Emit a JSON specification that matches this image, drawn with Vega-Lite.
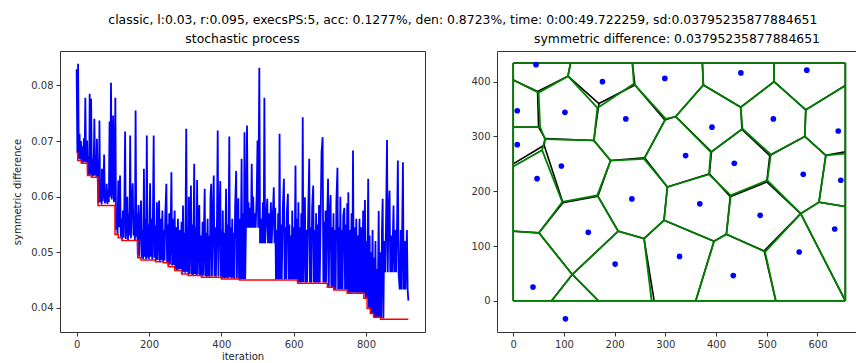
{
  "$schema": "https://vega.github.io/schema/vega-lite/v6.json",
  "background": "white",
  "padding": {"left": 12, "top": 13, "right": 0, "bottom": 0},
  "title": {"text": "classic, l:0.03, r:0.095, execsPS:5, acc: 0.1277%, den: 0.8723%, time: 0:00:49.722259, sd:0.03795235877884651", "fontSize": 12.4, "fontWeight": "normal", "font": "DejaVu Sans", "color": "#000", "anchor": "middle", "dx": 28, "offset": 6},
  "spacing": 44,
  "config": {
    "font": "DejaVu Sans",
    "view": {"stroke": "#333", "strokeWidth": 1},
    "axis": {"grid": false, "domain": false, "tickColor": "#333", "tickSize": 4, "labelFont": "DejaVu Sans", "labelFontSize": 10, "labelColor": "#333", "labelPadding": 3, "titleFont": "DejaVu Sans", "titleFontSize": 10, "titleFontWeight": "normal", "titleColor": "#222"},
    "title": {"fontSize": 12.4, "fontWeight": "normal", "font": "DejaVu Sans", "color": "#000", "offset": 6}
  },
  "hconcat": [
    {
      "width": 365,
      "height": 281,
      "title": {"text": "stochastic process"},
      "layer": [
        {
          "data": {"values": [
{"i":0,"v":0.0829},{"i":2,"v":0.0679},{"i":4,"v":0.0839},{"i":6,"v":0.0668},{"i":8,"v":0.0713},{"i":10,"v":0.0667},{"i":12,"v":0.0700},{"i":14,"v":0.0662},{"i":16,"v":0.0690},{"i":18,"v":0.0661},{"i":20,"v":0.0705},{"i":22,"v":0.0663},{"i":24,"v":0.0778},{"i":26,"v":0.0662},{"i":29,"v":0.0701},{"i":31,"v":0.0640},{"i":33,"v":0.0672},{"i":35,"v":0.0637},{"i":36,"v":0.0785},{"i":38,"v":0.0640},{"i":40,"v":0.0776},{"i":42,"v":0.0636},{"i":44,"v":0.0668},{"i":46,"v":0.0637},{"i":48,"v":0.0690},{"i":49,"v":0.0740},{"i":51,"v":0.0638},{"i":53,"v":0.0675},{"i":55,"v":0.0636},{"i":56,"v":0.0704},{"i":58,"v":0.0640},{"i":60,"v":0.0588},{"i":62,"v":0.0620},{"i":63,"v":0.0737},{"i":65,"v":0.0590},{"i":67,"v":0.0615},{"i":69,"v":0.0586},{"i":70,"v":0.0650},{"i":72,"v":0.0592},{"i":74,"v":0.0610},{"i":76,"v":0.0676},{"i":78,"v":0.0588},{"i":80,"v":0.0605},{"i":82,"v":0.0590},{"i":83,"v":0.0623},{"i":85,"v":0.0587},{"i":87,"v":0.0612},{"i":89,"v":0.0590},{"i":91,"v":0.0735},{"i":93,"v":0.0600},{"i":95,"v":0.0805},{"i":97,"v":0.0595},{"i":99,"v":0.0620},{"i":101,"v":0.0746},{"i":103,"v":0.0590},{"i":105,"v":0.0603},{"i":107,"v":0.0778},{"i":109,"v":0.0540},{"i":111,"v":0.0565},{"i":113,"v":0.0532},{"i":115,"v":0.0629},{"i":117,"v":0.0545},{"i":120,"v":0.0638},{"i":122,"v":0.0528},{"i":124,"v":0.0560},{"i":126,"v":0.0523},{"i":128,"v":0.0575},{"i":130,"v":0.0526},{"i":132,"v":0.0590},{"i":134,"v":0.0717},{"i":136,"v":0.0524},{"i":138,"v":0.0556},{"i":140,"v":0.0600},{"i":142,"v":0.0522},{"i":144,"v":0.0570},{"i":146,"v":0.0530},{"i":148,"v":0.0710},{"i":150,"v":0.0525},{"i":152,"v":0.0580},{"i":155,"v":0.0624},{"i":157,"v":0.0530},{"i":159,"v":0.0565},{"i":161,"v":0.0522},{"i":163,"v":0.0755},{"i":165,"v":0.0528},{"i":167,"v":0.0570},{"i":169,"v":0.0495},{"i":171,"v":0.0585},{"i":173,"v":0.0492},{"i":175,"v":0.0545},{"i":178,"v":0.0593},{"i":180,"v":0.0490},{"i":182,"v":0.0540},{"i":184,"v":0.0488},{"i":186,"v":0.0650},{"i":188,"v":0.0492},{"i":190,"v":0.0560},{"i":192,"v":0.0487},{"i":194,"v":0.0710},{"i":196,"v":0.0490},{"i":198,"v":0.0550},{"i":200,"v":0.0488},{"i":203,"v":0.0624},{"i":205,"v":0.0492},{"i":207,"v":0.0560},{"i":209,"v":0.0487},{"i":211,"v":0.0575},{"i":213,"v":0.0710},{"i":215,"v":0.0490},{"i":217,"v":0.0548},{"i":219,"v":0.0485},{"i":222,"v":0.0590},{"i":224,"v":0.0486},{"i":226,"v":0.0545},{"i":228,"v":0.0593},{"i":230,"v":0.0484},{"i":232,"v":0.0560},{"i":234,"v":0.0486},{"i":237,"v":0.0575},{"i":239,"v":0.0483},{"i":241,"v":0.0540},{"i":243,"v":0.0485},{"i":245,"v":0.0565},{"i":248,"v":0.0623},{"i":250,"v":0.0482},{"i":252,"v":0.0550},{"i":254,"v":0.0476},{"i":256,"v":0.0570},{"i":258,"v":0.0478},{"i":260,"v":0.0545},{"i":262,"v":0.0644},{"i":264,"v":0.0476},{"i":266,"v":0.0560},{"i":268,"v":0.0477},{"i":271,"v":0.0575},{"i":273,"v":0.0470},{"i":275,"v":0.0545},{"i":277,"v":0.0468},{"i":280,"v":0.0560},{"i":282,"v":0.0469},{"i":285,"v":0.0540},{"i":287,"v":0.0470},{"i":290,"v":0.0555},{"i":292,"v":0.0463},{"i":294,"v":0.0584},{"i":296,"v":0.0465},{"i":298,"v":0.0535},{"i":300,"v":0.0463},{"i":303,"v":0.0722},{"i":305,"v":0.0465},{"i":307,"v":0.0545},{"i":309,"v":0.0459},{"i":310,"v":0.0600},{"i":312,"v":0.0461},{"i":314,"v":0.0540},{"i":316,"v":0.0620},{"i":318,"v":0.0460},{"i":320,"v":0.0550},{"i":322,"v":0.0459},{"i":325,"v":0.0659},{"i":327,"v":0.0461},{"i":329,"v":0.0545},{"i":331,"v":0.0459},{"i":333,"v":0.0630},{"i":335,"v":0.0460},{"i":337,"v":0.0540},{"i":339,"v":0.0585},{"i":341,"v":0.0459},{"i":343,"v":0.0530},{"i":346,"v":0.0456},{"i":348,"v":0.0555},{"i":350,"v":0.0458},{"i":352,"v":0.0540},{"i":354,"v":0.0614},{"i":356,"v":0.0457},{"i":358,"v":0.0535},{"i":360,"v":0.0456},{"i":362,"v":0.0560},{"i":364,"v":0.0457},{"i":366,"v":0.0530},{"i":368,"v":0.0456},{"i":370,"v":0.0600},{"i":372,"v":0.0623},{"i":374,"v":0.0457},{"i":376,"v":0.0540},{"i":379,"v":0.0638},{"i":381,"v":0.0457},{"i":383,"v":0.0545},{"i":385,"v":0.0456},{"i":388,"v":0.0560},{"i":390,"v":0.0719},{"i":392,"v":0.0457},{"i":394,"v":0.0545},{"i":397,"v":0.0628},{"i":399,"v":0.0456},{"i":401,"v":0.0540},{"i":403,"v":0.0453},{"i":404,"v":0.0575},{"i":406,"v":0.0454},{"i":408,"v":0.0535},{"i":410,"v":0.0453},{"i":413,"v":0.0614},{"i":415,"v":0.0454},{"i":417,"v":0.0550},{"i":419,"v":0.0453},{"i":422,"v":0.0708},{"i":424,"v":0.0455},{"i":426,"v":0.0545},{"i":428,"v":0.0453},{"i":430,"v":0.0560},{"i":432,"v":0.0454},{"i":434,"v":0.0535},{"i":436,"v":0.0452},{"i":438,"v":0.0580},{"i":441,"v":0.0646},{"i":443,"v":0.0453},{"i":445,"v":0.0540},{"i":447,"v":0.0597},{"i":449,"v":0.0452},{"i":451,"v":0.0560},{"i":453,"v":0.0451},{"i":456,"v":0.0668},{"i":458,"v":0.0452},{"i":460,"v":0.0570},{"i":462,"v":0.0451},{"i":464,"v":0.0716},{"i":466,"v":0.0452},{"i":468,"v":0.0544},{"i":471,"v":0.0728},{"i":473,"v":0.0544},{"i":475,"v":0.0590},{"i":477,"v":0.0544},{"i":480,"v":0.0580},{"i":482,"v":0.0544},{"i":484,"v":0.0659},{"i":486,"v":0.0544},{"i":488,"v":0.0600},{"i":490,"v":0.0544},{"i":493,"v":0.0570},{"i":495,"v":0.0544},{"i":498,"v":0.0610},{"i":500,"v":0.0701},{"i":502,"v":0.0544},{"i":505,"v":0.0832},{"i":507,"v":0.0516},{"i":510,"v":0.0560},{"i":512,"v":0.0516},{"i":515,"v":0.0590},{"i":517,"v":0.0516},{"i":519,"v":0.0778},{"i":521,"v":0.0516},{"i":524,"v":0.0560},{"i":527,"v":0.0596},{"i":529,"v":0.0516},{"i":532,"v":0.0570},{"i":534,"v":0.0516},{"i":537,"v":0.0590},{"i":539,"v":0.0516},{"i":542,"v":0.0560},{"i":545,"v":0.0617},{"i":547,"v":0.0516},{"i":549,"v":0.0580},{"i":551,"v":0.0451},{"i":553,"v":0.0540},{"i":555,"v":0.0452},{"i":557,"v":0.0570},{"i":559,"v":0.0451},{"i":561,"v":0.0713},{"i":563,"v":0.0452},{"i":565,"v":0.0550},{"i":567,"v":0.0451},{"i":570,"v":0.0580},{"i":573,"v":0.0632},{"i":575,"v":0.0451},{"i":577,"v":0.0545},{"i":579,"v":0.0452},{"i":581,"v":0.0570},{"i":584,"v":0.0605},{"i":586,"v":0.0451},{"i":588,"v":0.0550},{"i":590,"v":0.0451},{"i":592,"v":0.0530},{"i":594,"v":0.0451},{"i":596,"v":0.0575},{"i":598,"v":0.0452},{"i":600,"v":0.0545},{"i":602,"v":0.0451},{"i":605,"v":0.0656},{"i":607,"v":0.0452},{"i":609,"v":0.0560},{"i":611,"v":0.0446},{"i":613,"v":0.0590},{"i":615,"v":0.0446},{"i":617,"v":0.0545},{"i":619,"v":0.0445},{"i":621,"v":0.0570},{"i":623,"v":0.0446},{"i":625,"v":0.0743},{"i":627,"v":0.0446},{"i":629,"v":0.0550},{"i":631,"v":0.0599},{"i":633,"v":0.0445},{"i":635,"v":0.0540},{"i":637,"v":0.0446},{"i":640,"v":0.0565},{"i":643,"v":0.0668},{"i":645,"v":0.0446},{"i":647,"v":0.0545},{"i":649,"v":0.0445},{"i":651,"v":0.0580},{"i":654,"v":0.0620},{"i":656,"v":0.0446},{"i":658,"v":0.0540},{"i":660,"v":0.0445},{"i":662,"v":0.0570},{"i":664,"v":0.0446},{"i":666,"v":0.0550},{"i":668,"v":0.0445},{"i":670,"v":0.0585},{"i":672,"v":0.0446},{"i":674,"v":0.0540},{"i":677,"v":0.0680},{"i":680,"v":0.0707},{"i":682,"v":0.0446},{"i":684,"v":0.0555},{"i":686,"v":0.0445},{"i":688,"v":0.0575},{"i":690,"v":0.0446},{"i":692,"v":0.0545},{"i":695,"v":0.0632},{"i":697,"v":0.0438},{"i":699,"v":0.0560},{"i":702,"v":0.0603},{"i":704,"v":0.0438},{"i":706,"v":0.0545},{"i":708,"v":0.0437},{"i":710,"v":0.0570},{"i":712,"v":0.0433},{"i":714,"v":0.0540},{"i":716,"v":0.0433},{"i":718,"v":0.0590},{"i":721,"v":0.0652},{"i":723,"v":0.0434},{"i":725,"v":0.0545},{"i":727,"v":0.0433},{"i":729,"v":0.0600},{"i":731,"v":0.0434},{"i":733,"v":0.0540},{"i":735,"v":0.0433},{"i":737,"v":0.0565},{"i":740,"v":0.0580},{"i":742,"v":0.0433},{"i":744,"v":0.0550},{"i":746,"v":0.0433},{"i":748,"v":0.0588},{"i":750,"v":0.0427},{"i":751,"v":0.0608},{"i":753,"v":0.0427},{"i":755,"v":0.0540},{"i":757,"v":0.0427},{"i":760,"v":0.0570},{"i":762,"v":0.0427},{"i":764,"v":0.0683},{"i":766,"v":0.0428},{"i":768,"v":0.0545},{"i":770,"v":0.0427},{"i":773,"v":0.0560},{"i":775,"v":0.0427},{"i":777,"v":0.0530},{"i":779,"v":0.0427},{"i":782,"v":0.0560},{"i":784,"v":0.0427},{"i":787,"v":0.0545},{"i":789,"v":0.0427},{"i":792,"v":0.0575},{"i":794,"v":0.0426},{"i":797,"v":0.0594},{"i":799,"v":0.0418},{"i":801,"v":0.0520},{"i":803,"v":0.0417},{"i":806,"v":0.0632},{"i":808,"v":0.0400},{"i":810,"v":0.0530},{"i":812,"v":0.0399},{"i":814,"v":0.0500},{"i":816,"v":0.0390},{"i":818,"v":0.0540},{"i":820,"v":0.0390},{"i":822,"v":0.0490},{"i":824,"v":0.0383},{"i":826,"v":0.0520},{"i":828,"v":0.0383},{"i":830,"v":0.0470},{"i":832,"v":0.0383},{"i":835,"v":0.0574},{"i":837,"v":0.0383},{"i":840,"v":0.0500},{"i":842,"v":0.0381},{"i":844,"v":0.0540},{"i":846,"v":0.0596},{"i":848,"v":0.0381},{"i":850,"v":0.0520},{"i":853,"v":0.0464},{"i":855,"v":0.0540},{"i":858,"v":0.0702},{"i":860,"v":0.0464},{"i":862,"v":0.0560},{"i":865,"v":0.0611},{"i":867,"v":0.0464},{"i":870,"v":0.0530},{"i":872,"v":0.0464},{"i":876,"v":0.0584},{"i":878,"v":0.0464},{"i":881,"v":0.0540},{"i":883,"v":0.0464},{"i":886,"v":0.0560},{"i":888,"v":0.0665},{"i":890,"v":0.0464},{"i":893,"v":0.0433},{"i":896,"v":0.0540},{"i":898,"v":0.0433},{"i":902,"v":0.0662},{"i":904,"v":0.0433},{"i":907,"v":0.0520},{"i":909,"v":0.0433},{"i":913,"v":0.0540},{"i":915,"v":0.0433},{"i":917,"v":0.0413}
          ]},
          "mark": {"type": "line", "color": "#0000ff", "strokeWidth": 1.8},
          "encoding": {
            "x": {"field": "i", "type": "quantitative", "scale": {"domain": [-46, 963], "nice": false, "zero": false}, "axis": {"title": "iteration", "values": [0, 200, 400, 600, 800], "titlePadding": 2}},
            "y": {"field": "v", "type": "quantitative", "scale": {"domain": [0.03565, 0.0862], "nice": false, "zero": false}, "axis": {"title": "symmetric difference", "values": [0.04, 0.05, 0.06, 0.07, 0.08], "format": ".2f", "titlePadding": 8}}
          }
        },
        {
          "data": {"values": [
{"i":0,"v":0.0679},{"i":3,"v":0.0665},{"i":13,"v":0.0660},{"i":30,"v":0.0638},{"i":41,"v":0.0635},{"i":59,"v":0.0584},{"i":106,"v":0.0532},{"i":115,"v":0.0526},{"i":125,"v":0.0521},{"i":169,"v":0.0490},{"i":178,"v":0.0486},{"i":218,"v":0.0483},{"i":240,"v":0.0481},{"i":253,"v":0.0474},{"i":271,"v":0.0467},{"i":290,"v":0.0461},{"i":308,"v":0.0458},{"i":345,"v":0.0455},{"i":400,"v":0.0452},{"i":450,"v":0.0450},{"i":611,"v":0.0444},{"i":693,"v":0.0437},{"i":711,"v":0.0432},{"i":748,"v":0.0426},{"i":794,"v":0.0417},{"i":803,"v":0.0399},{"i":812,"v":0.0390},{"i":821,"v":0.0383},{"i":840,"v":0.03795},{"i":917,"v":0.03795}
          ]},
          "mark": {"type": "line", "color": "#ff0000", "strokeWidth": 1.5, "interpolate": "step-after"},
          "encoding": {
            "x": {"field": "i", "type": "quantitative", "axis": {"title": "iteration"}},
            "y": {"field": "v", "type": "quantitative", "axis": {"title": "symmetric difference"}}
          }
        }
      ]
    },
    {
      "width": 360,
      "height": 281,
      "title": {"text": "symmetric difference: 0.03795235877884651"},
      "layer": [
        {
          "data": {"values": [
{"x1":0,"y1":434,"x2":655,"y2":434},{"x1":655,"y1":434,"x2":655,"y2":0},{"x1":655,"y1":0,"x2":0,"y2":0},{"x1":0,"y1":0,"x2":0,"y2":434},
{"x1":108,"y1":410,"x2":113,"y2":434},{"x1":108,"y1":410,"x2":48,"y2":382},{"x1":48,"y1":382,"x2":0,"y2":403},{"x1":108,"y1":410,"x2":169,"y2":360},{"x1":169,"y1":360,"x2":240,"y2":394},{"x1":169,"y1":360,"x2":159,"y2":292.7},{"x1":240,"y1":394,"x2":235,"y2":434},
{"x1":48,"y1":382,"x2":50,"y2":317},{"x1":50,"y1":317,"x2":0,"y2":317},{"x1":50,"y1":317,"x2":63,"y2":296},{"x1":63,"y1":296,"x2":61,"y2":284},{"x1":61,"y1":284,"x2":0,"y2":250},{"x1":63,"y1":296,"x2":159,"y2":292.7},{"x1":61,"y1":284,"x2":98,"y2":179},
{"x1":159,"y1":292.7,"x2":192,"y2":256},{"x1":192,"y1":256,"x2":259,"y2":261},{"x1":192,"y1":256,"x2":167,"y2":191},{"x1":167,"y1":191,"x2":98,"y2":179},{"x1":98,"y1":179,"x2":50.7,"y2":124},{"x1":50.7,"y1":124,"x2":0,"y2":127},{"x1":50.7,"y1":124,"x2":116.5,"y2":48},{"x1":116.5,"y1":48,"x2":75.7,"y2":0},{"x1":116.5,"y1":48,"x2":168,"y2":0},{"x1":116.5,"y1":48,"x2":207,"y2":127},{"x1":167,"y1":191,"x2":207,"y2":127},{"x1":207,"y1":127,"x2":258,"y2":113.6},{"x1":258,"y1":113.6,"x2":278,"y2":0},{"x1":258,"y1":113.6,"x2":297.4,"y2":147},
{"x1":297.4,"y1":147,"x2":304,"y2":207.7},{"x1":297.4,"y1":147,"x2":396,"y2":108.7},{"x1":396,"y1":108.7,"x2":360,"y2":0},{"x1":396,"y1":108.7,"x2":420.4,"y2":121.5},{"x1":420.4,"y1":121.5,"x2":428,"y2":190},{"x1":420.4,"y1":121.5,"x2":495,"y2":91},{"x1":495,"y1":91,"x2":517.8,"y2":0},{"x1":495,"y1":91,"x2":567,"y2":159},{"x1":567,"y1":159,"x2":655,"y2":0},{"x1":567,"y1":159,"x2":603,"y2":180},{"x1":603,"y1":180,"x2":655,"y2":172},{"x1":603,"y1":180,"x2":616.5,"y2":265.4},{"x1":567,"y1":159,"x2":500,"y2":217},{"x1":500,"y1":217,"x2":428,"y2":190},{"x1":500,"y1":217,"x2":506,"y2":265},
{"x1":428,"y1":190,"x2":387,"y2":232},{"x1":387,"y1":232,"x2":304,"y2":207.7},{"x1":387,"y1":232,"x2":391,"y2":272},{"x1":304,"y1":207.7,"x2":259,"y2":261},{"x1":259,"y1":261,"x2":299,"y2":330},{"x1":299,"y1":330,"x2":240,"y2":394},{"x1":299,"y1":330,"x2":320.5,"y2":336.4},{"x1":320.5,"y1":336.4,"x2":375,"y2":394},{"x1":320.5,"y1":336.4,"x2":391,"y2":272},{"x1":375,"y1":394,"x2":373,"y2":434},{"x1":375,"y1":394,"x2":448.8,"y2":353.4},{"x1":448.8,"y1":353.4,"x2":514.5,"y2":400},{"x1":514.5,"y1":400,"x2":514.5,"y2":434},{"x1":514.5,"y1":400,"x2":577,"y2":348.6},{"x1":577,"y1":348.6,"x2":655,"y2":393},{"x1":577,"y1":348.6,"x2":575,"y2":300},{"x1":575,"y1":300,"x2":616.5,"y2":265.4},{"x1":616.5,"y1":265.4,"x2":655,"y2":272},{"x1":575,"y1":300,"x2":506,"y2":265},{"x1":506,"y1":265,"x2":451,"y2":313},{"x1":451,"y1":313,"x2":448.8,"y2":353.4},{"x1":451,"y1":313,"x2":391,"y2":272}
          ]},
          "mark": {"type": "rule", "color": "#000000", "strokeWidth": 1.6},
          "encoding": {
            "x": {"field": "x1", "type": "quantitative", "scale": {"domain": [-32, 678], "nice": false, "zero": false}, "axis": {"title": null, "values": [0, 100, 200, 300, 400, 500, 600]}},
            "y": {"field": "y1", "type": "quantitative", "scale": {"domain": [-57, 456], "nice": false, "zero": false}, "axis": {"title": null, "values": [0, 100, 200, 300, 400]}},
            "x2": {"field": "x2"},
            "y2": {"field": "y2"}
          }
        },
        {
          "data": {"values": [
{"x1":0,"y1":434,"x2":655,"y2":434},{"x1":655,"y1":434,"x2":655,"y2":0},{"x1":655,"y1":0,"x2":0,"y2":0},{"x1":0,"y1":0,"x2":0,"y2":434},
{"x1":108,"y1":410,"x2":113,"y2":434},{"x1":108,"y1":410,"x2":50,"y2":380},{"x1":50,"y1":380,"x2":0,"y2":403},{"x1":108,"y1":410,"x2":166,"y2":352},{"x1":166,"y1":352,"x2":238,"y2":396},{"x1":166,"y1":352,"x2":159,"y2":292.7},{"x1":238,"y1":396,"x2":235,"y2":434},
{"x1":50,"y1":380,"x2":53,"y2":317},{"x1":53,"y1":317,"x2":0,"y2":317},{"x1":53,"y1":317,"x2":62.6,"y2":295},{"x1":62.6,"y1":295,"x2":57,"y2":275},{"x1":57,"y1":275,"x2":0,"y2":245},{"x1":62.6,"y1":295,"x2":159,"y2":292.7},{"x1":57,"y1":275,"x2":96.7,"y2":180.4},
{"x1":159,"y1":292.7,"x2":192,"y2":256},{"x1":192,"y1":256,"x2":258,"y2":259},{"x1":192,"y1":256,"x2":165.8,"y2":192.5},{"x1":165.8,"y1":192.5,"x2":96.7,"y2":180.4},{"x1":96.7,"y1":180.4,"x2":50.7,"y2":124},{"x1":50.7,"y1":124,"x2":0,"y2":127},{"x1":50.7,"y1":124,"x2":116.5,"y2":48},{"x1":116.5,"y1":48,"x2":75.7,"y2":0},{"x1":116.5,"y1":48,"x2":168,"y2":0},{"x1":116.5,"y1":48,"x2":207,"y2":127},{"x1":165.8,"y1":192.5,"x2":207,"y2":127},{"x1":207,"y1":127,"x2":258,"y2":113.6},{"x1":258,"y1":113.6,"x2":273,"y2":0},{"x1":258,"y1":113.6,"x2":297.4,"y2":147},
{"x1":297.4,"y1":147,"x2":304,"y2":207.7},{"x1":297.4,"y1":147,"x2":396,"y2":108.7},{"x1":396,"y1":108.7,"x2":360,"y2":0},{"x1":396,"y1":108.7,"x2":420.4,"y2":121.5},{"x1":420.4,"y1":121.5,"x2":429,"y2":192.5},{"x1":420.4,"y1":121.5,"x2":496.7,"y2":89.3},{"x1":496.7,"y1":89.3,"x2":517.8,"y2":0},{"x1":496.7,"y1":89.3,"x2":567,"y2":159},{"x1":567,"y1":159,"x2":655,"y2":0},{"x1":567,"y1":159,"x2":603,"y2":180},{"x1":603,"y1":180,"x2":655,"y2":172},{"x1":603,"y1":180,"x2":616.5,"y2":265.4},{"x1":567,"y1":159,"x2":501,"y2":220},{"x1":501,"y1":220,"x2":429,"y2":192.5},{"x1":501,"y1":220,"x2":508,"y2":267},
{"x1":429,"y1":192.5,"x2":386,"y2":230.8},{"x1":386,"y1":230.8,"x2":304,"y2":207.7},{"x1":386,"y1":230.8,"x2":389.6,"y2":271.4},{"x1":304,"y1":207.7,"x2":258,"y2":259},{"x1":258,"y1":259,"x2":300.8,"y2":332.2},{"x1":300.8,"y1":332.2,"x2":238,"y2":396},{"x1":300.8,"y1":332.2,"x2":320.5,"y2":336.4},{"x1":320.5,"y1":336.4,"x2":375,"y2":394},{"x1":320.5,"y1":336.4,"x2":389.6,"y2":271.4},{"x1":375,"y1":394,"x2":373,"y2":434},{"x1":375,"y1":394,"x2":448.8,"y2":353.4},{"x1":448.8,"y1":353.4,"x2":514.5,"y2":400},{"x1":514.5,"y1":400,"x2":514.5,"y2":434},{"x1":514.5,"y1":400,"x2":577,"y2":348.6},{"x1":577,"y1":348.6,"x2":655,"y2":393},{"x1":577,"y1":348.6,"x2":575,"y2":300},{"x1":575,"y1":300,"x2":616.5,"y2":265.4},{"x1":616.5,"y1":265.4,"x2":655,"y2":268.5},{"x1":575,"y1":300,"x2":508,"y2":267},{"x1":508,"y1":267,"x2":452,"y2":314},{"x1":452,"y1":314,"x2":448.8,"y2":353.4},{"x1":452,"y1":314,"x2":389.6,"y2":271.4}
          ]},
          "mark": {"type": "rule", "color": "#008000", "strokeWidth": 1.8},
          "encoding": {
            "x": {"field": "x1", "type": "quantitative", "axis": {"title": null}},
            "y": {"field": "y1", "type": "quantitative", "axis": {"title": null}},
            "x2": {"field": "x2"},
            "y2": {"field": "y2"}
          }
        },
        {
          "data": {"values": [
{"x":45,"y":431},{"x":176,"y":400},{"x":8,"y":347},{"x":102,"y":344},{"x":222,"y":332},{"x":8,"y":285},{"x":95,"y":246},{"x":47,"y":223},{"x":234,"y":186},{"x":148,"y":125},{"x":201,"y":67},{"x":39,"y":25},{"x":103,"y":-33},{"x":299,"y":406},{"x":449,"y":416},{"x":579,"y":421},{"x":392,"y":317},{"x":513,"y":332},{"x":641,"y":310},{"x":340,"y":265},{"x":436,"y":251},{"x":572,"y":231},{"x":646,"y":220},{"x":368,"y":177},{"x":328,"y":81},{"x":434,"y":46},{"x":487,"y":156},{"x":564,"y":89},{"x":634,"y":131}
          ]},
          "mark": {"type": "point", "filled": true, "color": "#0000ff", "size": 32, "opacity": 1},
          "encoding": {
            "x": {"field": "x", "type": "quantitative", "axis": {"title": null}},
            "y": {"field": "y", "type": "quantitative", "axis": {"title": null}}
          }
        }
      ]
    }
  ]
}
